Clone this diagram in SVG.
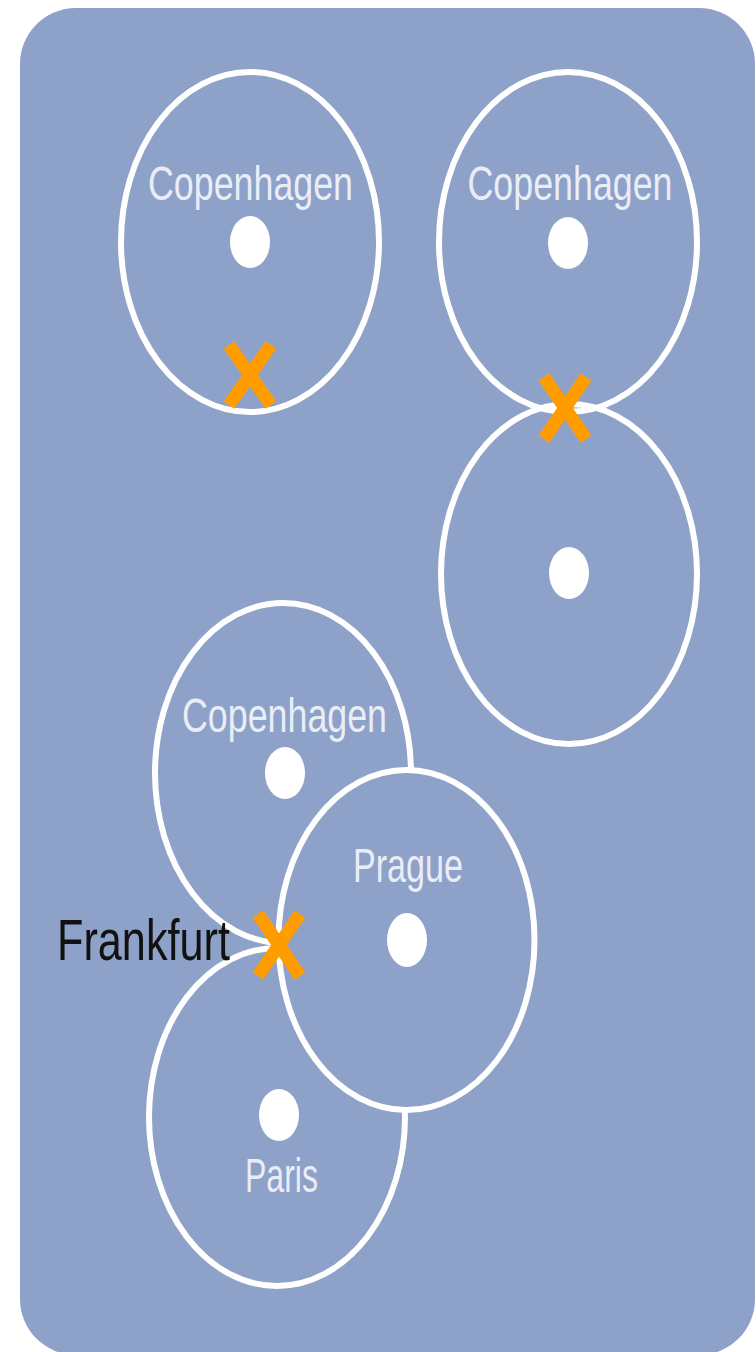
<svg xmlns="http://www.w3.org/2000/svg" width="756" height="1352" viewBox="0 0 756 1352">
  <style>
    .ring { fill: none; stroke: #ffffff; stroke-width: 6; }
    .ringf { fill: #8ea1c9; stroke: #ffffff; stroke-width: 6; }
    .dot { fill: #ffffff; }
    .lbl { font-family: "Liberation Sans", Arial, sans-serif; font-size: 36px; fill: #e9edf6; text-anchor: middle; }
    .ext { font-family: "Liberation Sans", Arial, sans-serif; font-size: 43px; fill: #111111; }
    .x { stroke: #ff9c00; stroke-width: 13; stroke-linecap: butt; fill: none; }
  </style>
  <rect x="20" y="8" width="735" height="1347" rx="56" ry="56" fill="#8ea1c9"/>

  <g id="node-copenhagen-1">
    <ellipse class="ring" cx="250" cy="242" rx="129" ry="170"/>
    <ellipse class="dot" cx="250" cy="242" rx="20" ry="26"/>
    <text class="lbl" transform="translate(250.5,200) scale(1,1.32)" textLength="205" lengthAdjust="spacingAndGlyphs">Copenhagen</text>
  </g>

  <g id="node-copenhagen-2">
    <ellipse class="ring" cx="568" cy="242" rx="129" ry="170"/>
    <ellipse class="dot" cx="568" cy="243" rx="20" ry="26"/>
    <text class="lbl" transform="translate(570,200) scale(1,1.32)" textLength="205" lengthAdjust="spacingAndGlyphs">Copenhagen</text>
  </g>

  <g id="node-unnamed">
    <ellipse class="ring" cx="569" cy="574" rx="128" ry="170"/>
    <ellipse class="dot" cx="569" cy="573" rx="20" ry="26"/>
  </g>

  <g id="node-copenhagen-3">
    <ellipse class="ring" cx="283" cy="773" rx="128" ry="170"/>
    <ellipse class="dot" cx="285" cy="773" rx="20" ry="26"/>
    <text class="lbl" transform="translate(284.5,732) scale(1,1.32)" textLength="205" lengthAdjust="spacingAndGlyphs">Copenhagen</text>
  </g>

  <g id="node-paris">
    <ellipse class="ring" cx="277" cy="1117" rx="128" ry="169"/>
    <ellipse class="dot" cx="279" cy="1115" rx="20" ry="26"/>
    <text class="lbl" transform="translate(281.5,1192) scale(1,1.32)" textLength="73" lengthAdjust="spacingAndGlyphs">Paris</text>
  </g>

  <g id="node-prague">
    <ellipse class="ringf" cx="406.5" cy="940" rx="128" ry="170"/>
    <ellipse class="dot" cx="407" cy="940" rx="20" ry="27"/>
    <text class="lbl" transform="translate(408,882) scale(1,1.32)" textLength="110" lengthAdjust="spacingAndGlyphs">Prague</text>
  </g>

  <g id="connectors"></g>

  <g id="markers">
    <path class="x" d="M229,345 L271,405 M271,345 L229,405"/>
    <path class="x" d="M544,377 L586,439 M586,377 L544,439"/>
    <path class="x" d="M258,914 L300,976 M300,914 L258,976"/>
  </g>

  <g id="label-frankfurt">
    <text class="ext" transform="translate(57,960) scale(1,1.32)" textLength="173" lengthAdjust="spacingAndGlyphs">Frankfurt</text>
  </g>
</svg>
